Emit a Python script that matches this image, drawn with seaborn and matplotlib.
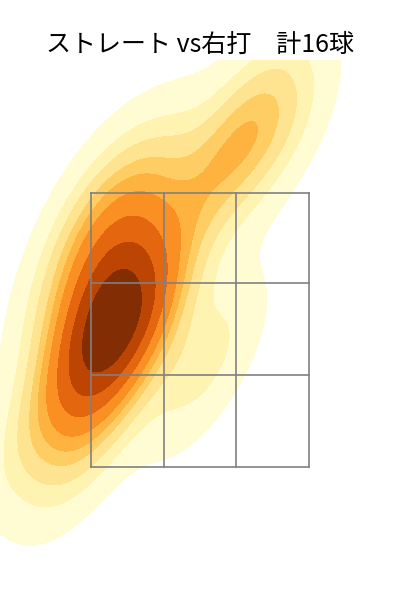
import numpy as np
import pandas as pd
import matplotlib
matplotlib.use("Agg")
import matplotlib.pyplot as plt
import seaborn as sns

# pitch locations (ft), catcher view
plate_x = [-0.95, -0.38, -0.88, -0.46, -0.76, -0.57, -0.69, -0.61,
           -0.80, -0.42, 0.38, 0.57, 0.11, -1.18, -0.88, 0.04]
plate_z = [2.90, 2.68, 2.46, 2.39, 2.68, 3.01, 2.21, 2.61,
           3.41, 3.56, 4.11, 3.89, 3.63, 1.84, 1.66, 2.25]

zone_x = [-0.83, -0.277, 0.277, 0.83]
zone_z = [1.5, 2.17, 2.84, 3.5]

title = "ストレート vs右打　計16球"

df = pd.DataFrame({"plate_x": plate_x, "plate_z": plate_z})

fig = plt.figure(figsize=(4, 6), dpi=100)
ax = fig.add_axes([0, 0, 1, 0.9])

sns.kdeplot(data=df, x="plate_x", y="plate_z", fill=True, cmap="YlOrBr",
            levels=10, thresh=0.05, ax=ax)

# strike zone 3x3
for x in zone_x:
    ax.plot([x, x], [zone_z[0], zone_z[-1]], color="gray", lw=1.2)
for z in zone_z:
    ax.plot([zone_x[0], zone_x[-1]], [z, z], color="gray", lw=1.2)

ax.set_xlim(-1.52, 1.52)
ax.set_ylim(0.53, 4.47)
ax.axis("off")
ax.set_title(title, fontsize=18, family=["Noto Sans CJK JP", "DejaVu Sans"])

fig.savefig("out.png", dpi=100)
